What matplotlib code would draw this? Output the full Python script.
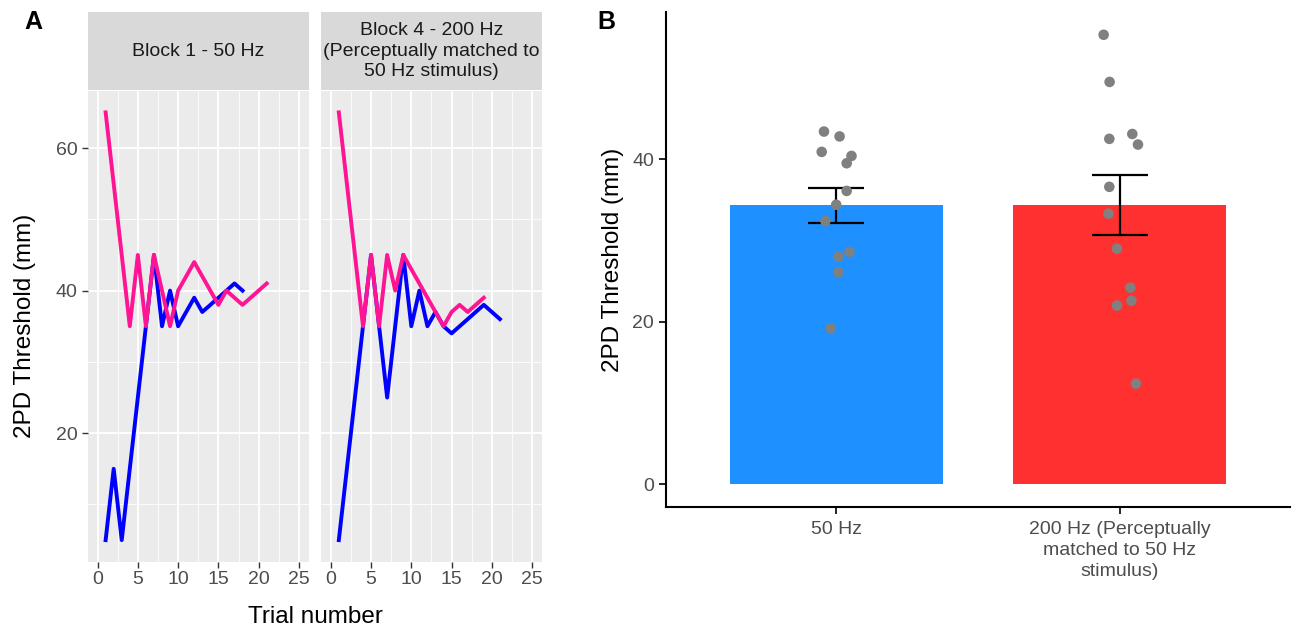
import numpy as np
import matplotlib.pyplot as plt

plt.rcParams['font.family'] = ['Liberation Sans', 'DejaVu Sans']

# Panel A: staircase thresholds per trial (ascending = blue, descending = pink)
b1_asc = [5, 15, 5, 15, 25, 35, 45, 35, 40, 35, 37, 39, 37, 38, 39, 40, 41, 40]
b1_desc = [65, 55, 45, 35, 45, 35, 45, 40, 35, 40, 42, 44, 42, 40, 38, 40, 39, 38, 39, 40, 41]
b4_asc = [5, 15, 25, 35, 45, 35, 25, 35, 45, 35, 40, 35, 37, 35, 34, 35, 36, 37, 38, 37, 36]
b4_desc = [65, 55, 45, 35, 45, 35, 45, 40, 45, 43, 41, 39, 37, 35, 37, 38, 37, 38, 39]
facet_titles = ["Block 1 - 50 Hz",
                "Block 4 - 200 Hz\n(Perceptually matched to\n50 Hz stimulus)"]

# Panel B: individual thresholds and jitter offsets
groups = ["50 Hz", "200 Hz (Perceptually\nmatched to 50 Hz\nstimulus)"]
pts_50 = [43.4, 42.8, 40.9, 40.4, 39.5, 36.1, 34.4, 32.4, 28.6, 28.0, 26.1, 19.2]
jit_50 = [-0.043, 0.012, -0.051, 0.054, 0.037, 0.037, 0.0, -0.038, 0.047, 0.008, 0.007, -0.019]
pts_200 = [55.3, 49.5, 42.5, 43.1, 41.8, 36.6, 33.3, 29.0, 24.2, 22.6, 22.0, 12.4]
jit_200 = [-0.057, -0.036, -0.037, 0.044, 0.064, -0.037, -0.040, -0.010, 0.037, 0.041, -0.010, 0.057]
bar_colors = ['#1E90FF', '#FF3030']

W, H = 1298, 629
fig = plt.figure(figsize=(W / 100, H / 100), dpi=100)

def fx(px):
    return px / W

def fy(py):
    return 1 - py / H

tick_col = '#4D4D4D'
tick_fs = 14
title_fs = 17.5

# ---- Panel A ----
panel_lefts = [87.5, 320.7]
pw = 221.5
series = [(b1_asc, b1_desc), (b4_asc, b4_desc)]
for i, (left, (asc, desc), title) in enumerate(zip(panel_lefts, series, facet_titles)):
    ax = fig.add_axes([fx(left), fy(561.5), fx(pw), fy(91) - fy(561.5)])
    ax.set_facecolor('#EBEBEB')
    for s in ax.spines.values():
        s.set_visible(False)
    ax.set_xlim(-1.25, 26.25)
    ax.set_ylim(2, 68)
    ax.set_xticks([0, 5, 10, 15, 20, 25])
    ax.set_xticks(np.arange(2.5, 26, 5), minor=True)
    ax.set_yticks([20, 40, 60])
    ax.set_yticks([10, 30, 50], minor=True)
    ax.grid(which='major', color='white', lw=1.3)
    ax.grid(which='minor', color='white', lw=0.6)
    ax.set_axisbelow(True)
    ax.tick_params(which='major', length=4, width=1.0, color='#333333',
                   labelsize=tick_fs, labelcolor=tick_col, pad=3)
    ax.tick_params(which='minor', length=0)
    if i > 0:
        ax.tick_params(axis='y', left=False, labelleft=False)
    ax.plot(np.arange(1, len(asc) + 1), asc, color='#0000FF', lw=2.8)
    ax.plot(np.arange(1, len(desc) + 1), desc, color='#FF1493', lw=2.8)

    sax = fig.add_axes([fx(left), fy(90), fx(pw), fy(12) - fy(90)])
    sax.set_facecolor('#D9D9D9')
    sax.set_xticks([])
    sax.set_yticks([])
    for s in sax.spines.values():
        s.set_visible(False)
    sax.text(0.5, 0.5, title, ha='center', va='center', fontsize=tick_fs,
             color='#1A1A1A', linespacing=1.25, transform=sax.transAxes)

fig.text(fx(315), fy(617), "Trial number", ha='center', va='center', fontsize=title_fs)
fig.text(fx(25), fy(326), "2PD Threshold (mm)", ha='center', va='center',
         rotation=90, fontsize=title_fs)
fig.text(fx(33), fy(22), "A", ha='center', va='center', fontsize=18, fontweight='bold')

# ---- Panel B ----
axb = fig.add_axes([fx(666), fy(507), fx(1290 - 666), fy(12) - fy(507)])
x = np.arange(1, len(groups) + 1)
all_pts = [pts_50, pts_200]
all_jit = [jit_50, jit_200]
means = [np.mean(p) for p in all_pts]
sems = [np.std(p, ddof=1) / np.sqrt(len(p)) for p in all_pts]
axb.bar(x, means, width=0.75, color=bar_colors, zorder=1)
axb.errorbar(x, means, yerr=sems, fmt='none', ecolor='black', elinewidth=1.6,
             capsize=20, capthick=1.6, zorder=2)
for xi, p, j in zip(x, all_pts, all_jit):
    axb.scatter(xi + np.array(j), p, s=58, color='#808080', edgecolors='none', zorder=3)
axb.set_xlim(0.4, 2.6)
axb.set_ylim(-2.77, 58.1)
axb.set_xticks(x)
axb.set_xticklabels(groups, fontsize=tick_fs, color=tick_col, linespacing=1.3)
axb.set_yticks([0, 20, 40])
axb.tick_params(axis='y', labelsize=tick_fs, labelcolor=tick_col, length=5, width=1.2)
axb.tick_params(axis='x', length=5, width=1.2, pad=5)
axb.spines['top'].set_visible(False)
axb.spines['right'].set_visible(False)
axb.spines['left'].set_linewidth(1.5)
axb.spines['bottom'].set_linewidth(1.5)
axb.set_ylabel("2PD Threshold (mm)", fontsize=title_fs, labelpad=6)
fig.text(fx(606), fy(22), "B", ha='center', va='center', fontsize=18, fontweight='bold')

fig.savefig('out.png', dpi=100)
